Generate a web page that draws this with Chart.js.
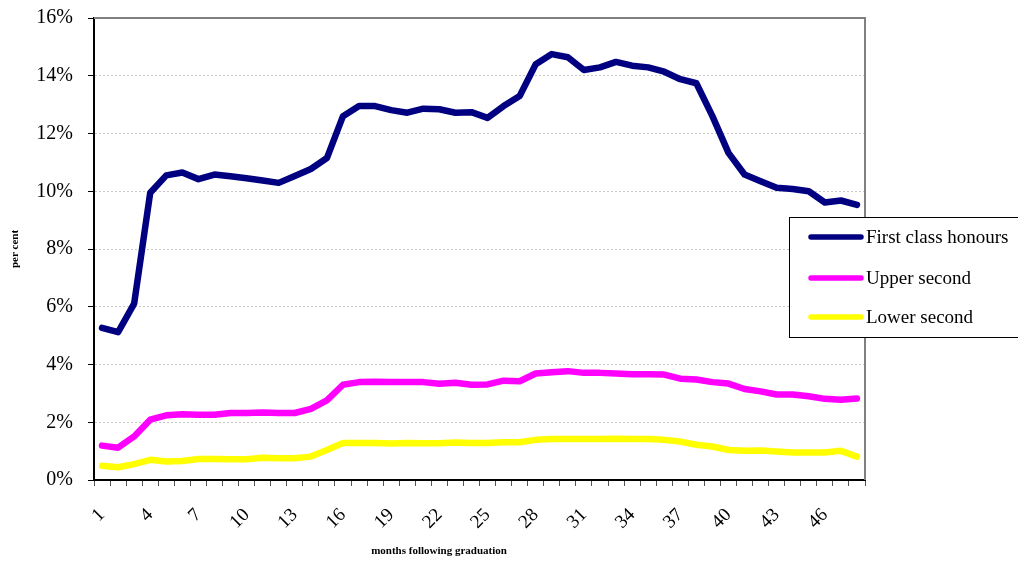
<!DOCTYPE html>
<html>
<head>
<meta charset="utf-8">
<script src="https://cdn.jsdelivr.net/npm/chart.js@4.4.1/dist/chart.umd.min.js"></script>
<style>
	html, body { margin: 0; padding: 0; background: #fff; }
	#wrap { width: 1018px; height: 561px; position: relative; }
</style>
</head>
<body>
<div id="wrap"><canvas id="grad-chart"></canvas></div>
<script>
const months = ['1','2','3','4','5','6','7','8','9','10','11','12','13','14','15','16',
	'17','18','19','20','21','22','23','24','25','26','27','28','29','30','31','32',
	'33','34','35','36','37','38','39','40','41','42','43','44','45','46','47','48'];

const firstClass = [5.27, 5.12, 6.11, 9.95, 10.55, 10.65, 10.42, 10.58, 10.52, 10.45, 10.37, 10.29,
	10.53, 10.77, 11.15, 12.6, 12.95, 12.95, 12.81, 12.72, 12.86, 12.84, 12.72, 12.74,
	12.54, 12.95, 13.3, 14.4, 14.75, 14.64, 14.2, 14.29, 14.48, 14.35, 14.29, 14.14,
	13.88, 13.74, 12.6, 11.33, 10.58, 10.35, 10.12, 10.08, 10.0, 9.61, 9.68, 9.53];

const upperSecond = [1.19, 1.12, 1.51, 2.09, 2.24, 2.28, 2.26, 2.26, 2.32, 2.32, 2.34, 2.32,
	2.32, 2.46, 2.76, 3.3, 3.39, 3.4, 3.39, 3.39, 3.39, 3.33, 3.37, 3.3,
	3.31, 3.44, 3.42, 3.69, 3.73, 3.77, 3.71, 3.71, 3.69, 3.66, 3.66, 3.65,
	3.51, 3.48, 3.39, 3.34, 3.15, 3.07, 2.96, 2.96, 2.9, 2.81, 2.78, 2.82];

const lowerSecond = [0.49, 0.44, 0.55, 0.7, 0.64, 0.66, 0.73, 0.73, 0.72, 0.72, 0.77, 0.75,
	0.75, 0.81, 1.04, 1.28, 1.28, 1.28, 1.26, 1.28, 1.27, 1.27, 1.3, 1.28,
	1.28, 1.31, 1.31, 1.39, 1.42, 1.42, 1.42, 1.42, 1.43, 1.42, 1.42, 1.39,
	1.33, 1.22, 1.16, 1.04, 1.01, 1.02, 0.99, 0.95, 0.95, 0.95, 1.01, 0.81];

const seriesNames = ['First class honours', 'Upper second', 'Lower second'];
const seriesColors = ['#000080', '#ff00ff', '#ffff00'];
const xTitle = 'months following graduation';

const serif = "'Liberation Serif', 'DejaVu Serif', serif";

// grey frame on top/right of the plot, the boxed legend over it, and the x title
const framePlugin = {
	id: 'frameAndLegend',
	beforeDatasetsDraw(chart) {
		const { ctx, chartArea: a } = chart;
		ctx.save();
		ctx.strokeStyle = '#808080';
		ctx.lineWidth = 2;
		ctx.beginPath();
		ctx.moveTo(a.left, a.top);
		ctx.lineTo(a.right, a.top);
		ctx.lineTo(a.right, a.bottom);
		ctx.stroke();
		ctx.restore();
	},
	afterDraw(chart) {
		const ctx = chart.ctx;
		const bx = 789, by = 217, bw = 240, bh = 120;
		ctx.save();
		ctx.fillStyle = '#fff';
		ctx.fillRect(bx, by, bw, bh);
		ctx.strokeStyle = '#000';
		ctx.lineWidth = 1;
		ctx.strokeRect(bx + 0.5, by + 0.5, bw, bh);
		const rows = [237, 278, 317];
		chart.data.datasets.forEach((ds, i) => {
			ctx.strokeStyle = ds.borderColor;
			ctx.lineWidth = 5.5;
			ctx.lineCap = 'round';
			ctx.beginPath();
			ctx.moveTo(811, rows[i]);
			ctx.lineTo(861, rows[i]);
			ctx.stroke();
			ctx.fillStyle = '#000';
			ctx.font = '19px ' + serif;
			ctx.textBaseline = 'middle';
			ctx.fillText(ds.label, 866, rows[i] + 1);
		});

		ctx.font = 'bold 11px ' + serif;
		ctx.textAlign = 'center';
		ctx.textBaseline = 'middle';
		ctx.fillText(xTitle, 439, 551);
		ctx.restore();
	}
};

const lineDs = (label, data, color) => ({
	label: label,
	data: data,
	borderColor: color,
	backgroundColor: color,
	borderWidth: 6.5,
	pointRadius: 0,
	tension: 0,
	borderJoinStyle: 'round',
	borderCapStyle: 'round'
});

const gradChart = new Chart('grad-chart', {
	type: 'line',
	data: {
		labels: months,
		datasets: [
			lineDs(seriesNames[0], firstClass, seriesColors[0]),
			lineDs(seriesNames[1], upperSecond, seriesColors[1]),
			lineDs(seriesNames[2], lowerSecond, seriesColors[2])
		]
	},
	options: {
		responsive: true,
		maintainAspectRatio: false,
		animation: false,
		layout: { padding: { left: 0, top: 18, right: 153, bottom: 0 } },
		plugins: {
			legend: { display: false },
			tooltip: { enabled: false }
		},
		scales: {
			x: {
				type: 'category',
				offset: true,
				afterFit(scale) { scale.height = 81; },
				grid: {
					offset: true,
					drawOnChartArea: false,
					drawTicks: true,
					tickLength: 6,
					tickColor: '#555'
				},
				border: { color: '#000', width: 2 },
				ticks: {
					autoSkip: false,
					minRotation: 45,
					maxRotation: 45,
					padding: 18,
					color: '#000',
					font: { family: serif, size: 19 },
					callback: (v, i) => (i % 3 === 0 ? months[i] : '')
				}
			},
			y: {
				min: 0,
				max: 16,
				afterFit(scale) {
					scale.width = 94;
					// label padding should not push the plot down
					scale.paddingTop = 10;
					scale.paddingBottom = 0;
				},
				grid: {
					color: '#c8c8c8',
					tickColor: '#000',
					tickLength: 6,
					lineWidth: 1
				},
				border: { color: '#000', width: 2, dash: [2, 2] },
				ticks: {
					stepSize: 2,
					padding: 15,
					color: '#000',
					font: { family: serif, size: 20 },
					callback: v => v + '%'
				},
				title: {
					display: true,
					text: 'per cent',
					color: '#000',
					font: { family: serif, size: 11, weight: 'bold' },
					padding: { top: 9, bottom: 0 }
				}
			}
		}
	},
	plugins: [framePlugin]
});
</script>
</body>
</html>
